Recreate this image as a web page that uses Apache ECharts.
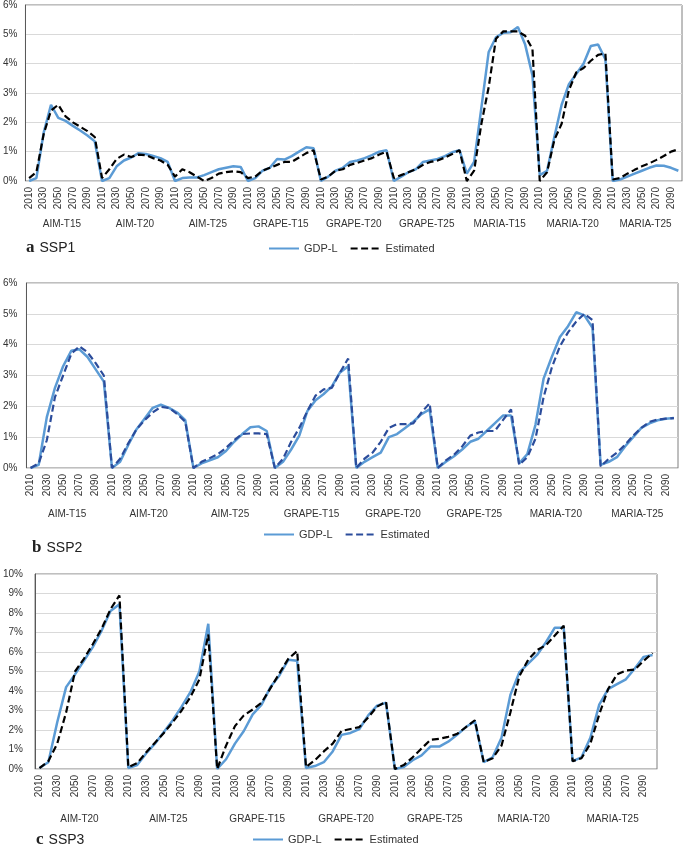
<!DOCTYPE html>
<html>
<head>
<meta charset="utf-8">
<script src="https://cdn.jsdelivr.net/npm/echarts@6/dist/echarts.min.js"></script>
<style>
html,body{margin:0;padding:0;background:#fff;}
#c{width:685px;height:853px;}
</style>
</head>
<body>
<div id="c"></div>
<script>
// ---------- data ----------
const years = [2010, 2020, 2030, 2040, 2050, 2060, 2070, 2080, 2090, 2100];

const ssp1Groups = ['AIM-T15','AIM-T20','AIM-T25','GRAPE-T15','GRAPE-T20','GRAPE-T25','MARIA-T15','MARIA-T20','MARIA-T25'];
const ssp2Groups = ['AIM-T15','AIM-T20','AIM-T25','GRAPE-T15','GRAPE-T20','GRAPE-T25','MARIA-T20','MARIA-T25'];
const ssp3Groups = ['AIM-T20','AIM-T25','GRAPE-T15','GRAPE-T20','GRAPE-T25','MARIA-T20','MARIA-T25'];

// SSP1 (values in %)
const ssp1GdpL = [
  0, 0.1, 1.65, 2.6, 2.15, 2.05, 1.88, 1.72, 1.55, 1.35,      // AIM-T15
  0, 0.1, 0.5, 0.7, 0.8, 0.95, 0.92, 0.85, 0.78, 0.65,        // AIM-T20
  0, 0.1, 0.12, 0.12, 0.2, 0.3, 0.4, 0.45, 0.5, 0.48,         // AIM-T25
  0, 0.1, 0.35, 0.45, 0.75, 0.73, 0.85, 1.0, 1.15, 1.12,      // GRAPE-T15
  0, 0.15, 0.35, 0.45, 0.65, 0.7, 0.78, 0.88, 1.0, 1.05,      // GRAPE-T20
  0, 0.15, 0.3, 0.4, 0.65, 0.7, 0.75, 0.85, 0.98, 1.05,       // GRAPE-T25
  0.25, 0.65, 2.5, 4.4, 4.9, 5.05, 5.07, 5.25, 4.65, 3.6,     // MARIA-T15
  0.2, 0.35, 1.5, 2.6, 3.3, 3.65, 4.0, 4.6, 4.65, 4.15,       // MARIA-T20
  0, 0.05, 0.15, 0.25, 0.35, 0.45, 0.53, 0.52, 0.45, 0.35     // MARIA-T25
];
const ssp1Est = [
  0.1, 0.3, 1.6, 2.4, 2.6, 2.2, 2.0, 1.85, 1.7, 1.5,
  0.1, 0.4, 0.75, 0.9, 0.82, 0.9, 0.88, 0.78, 0.7, 0.55,
  0.15, 0.4, 0.3, 0.15, 0.0, 0.1, 0.25, 0.3, 0.33, 0.3,
  0.1, 0.15, 0.35, 0.45, 0.55, 0.65, 0.65, 0.8, 0.95, 1.05,
  0.05, 0.15, 0.35, 0.4, 0.55, 0.62, 0.7, 0.78, 0.9, 1.0,
  0.1, 0.2, 0.3, 0.4, 0.55, 0.65, 0.7, 0.8, 0.92, 1.05,
  0.0, 0.35, 1.95, 3.2, 4.85, 5.1, 5.1, 5.1, 4.95, 4.5,
  0.0, 0.3, 1.4, 1.95, 3.1, 3.7, 3.85, 4.1, 4.3, 4.35,
  0.05, 0.1, 0.25, 0.38, 0.5, 0.6, 0.72, 0.85, 1.0, 1.08
];

// SSP2
const ssp2GdpL = [
  0, 0.1, 1.65, 2.6, 3.3, 3.8, 3.85, 3.6, 3.2, 2.8,           // AIM-T15
  0, 0.2, 0.75, 1.25, 1.6, 1.95, 2.05, 1.95, 1.8, 1.55,       // AIM-T20
  0, 0.15, 0.25, 0.35, 0.55, 0.85, 1.1, 1.32, 1.35, 1.2,      // AIM-T25
  0, 0.2, 0.6, 1.05, 1.85, 2.2, 2.4, 2.65, 3.1, 3.3,          // GRAPE-T15
  0, 0.2, 0.35, 0.5, 1.0, 1.1, 1.3, 1.5, 1.75, 1.9,           // GRAPE-T20
  0, 0.2, 0.38, 0.6, 0.85, 0.95, 1.2, 1.45, 1.7, 1.7,         // GRAPE-T25
  0.15, 0.45, 1.4, 2.9, 3.6, 4.25, 4.6, 5.05, 4.95, 4.55,     // MARIA-T20
  0.1, 0.2, 0.35, 0.7, 1.0, 1.3, 1.45, 1.55, 1.6, 1.62        // MARIA-T25
];
const ssp2Est = [
  0, 0.15, 0.9, 2.3, 3.0, 3.7, 3.95, 3.75, 3.4, 3.0,
  0, 0.3, 0.8, 1.25, 1.55, 1.8, 1.98, 1.95, 1.75, 1.5,
  0, 0.2, 0.32, 0.45, 0.65, 0.9, 1.1, 1.12, 1.12, 1.1,
  0, 0.3, 0.85, 1.3, 1.85, 2.35, 2.55, 2.6, 3.1, 3.55,
  0, 0.3, 0.5, 0.85, 1.3, 1.42, 1.42, 1.45, 1.8, 2.1,
  0, 0.25, 0.43, 0.7, 1.05, 1.15, 1.2, 1.2, 1.55, 1.9,
  0.1, 0.35, 0.95, 2.3, 3.25, 3.95, 4.4, 4.75, 5.0, 4.8,
  0.05, 0.3, 0.5, 0.75, 1.05, 1.3, 1.5, 1.57, 1.6, 1.62
];

// SSP3
const ssp3GdpL = [
  0.05, 0.35, 2.4, 4.2, 4.85, 5.55, 6.25, 7.1, 8.1, 8.45,     // AIM-T20
  0.05, 0.2, 0.8, 1.3, 1.9, 2.5, 3.2, 3.95, 5.0, 7.45,        // AIM-T25
  0, 0.5, 1.3, 1.95, 2.8, 3.3, 4.2, 4.8, 5.6, 5.55,           // GRAPE-T15
  0.05, 0.15, 0.35, 0.9, 1.75, 1.85, 2.05, 2.75, 3.25, 3.4,   // GRAPE-T20
  0, 0.1, 0.45, 0.7, 1.15, 1.15, 1.4, 1.75, 2.15, 2.45,       // GRAPE-T25
  0.35, 0.6, 1.6, 3.8, 4.95, 5.4, 5.85, 6.5, 7.25, 7.25,      // MARIA-T20
  0.4, 0.6, 1.6, 3.3, 4.1, 4.35, 4.6, 5.15, 5.75, 5.85        // MARIA-T25
];
const ssp3Est = [
  0.05, 0.4, 1.3, 2.9, 5.0, 5.65, 6.4, 7.2, 8.2, 8.9,
  0.1, 0.3, 0.85, 1.35, 1.85, 2.4, 3.0, 3.7, 4.6, 6.9,
  0, 1.2, 2.2, 2.75, 3.05, 3.4, 4.15, 4.9, 5.65, 6.05,
  0.1, 0.45, 0.9, 1.3, 1.95, 2.05, 2.15, 2.65, 3.2, 3.45,
  0, 0.2, 0.6, 1.05, 1.5, 1.55, 1.65, 1.8, 2.15, 2.5,
  0.35, 0.55, 1.2, 2.9, 4.75, 5.6, 6.1, 6.35, 6.85, 7.35,
  0.4, 0.55, 1.3, 2.8, 4.1, 4.85, 5.05, 5.1, 5.55, 5.95
];

// ---------- chart ----------
const FONT = 'Liberation Sans, Arial, sans-serif';
const TXT = '#333';
const BLUE = '#5B9BD5';

function yearCats(groups) {
  const out = [];
  groups.forEach(() => years.forEach(y => out.push(String(y))));
  return out;
}

const panels = [
  { key: 'SSP1', letter: 'a', groups: ssp1Groups, gdp: ssp1GdpL, est: ssp1Est, estColor: '#000',
    grid: { left: 22, top: 4, width: 660, height: 177 }, ymax: 6, ymargin: 8, grpOffset: 33,
    title: { left: 26, top: 239 }, legend: { left: 268, top: 243 } },
  { key: 'SSP2', letter: 'b', groups: ssp2Groups, gdp: ssp2GdpL, est: ssp2Est, estColor: '#2B4C9B',
    grid: { left: 25, top: 283, width: 653, height: 185 }, ymax: 6, ymargin: 9, grpOffset: 36,
    title: { left: 32, top: 539 }, legend: { left: 263, top: 529 } },
  { key: 'SSP3', letter: 'c', groups: ssp3Groups, gdp: ssp3GdpL, est: ssp3Est, estColor: '#000',
    grid: { left: 33, top: 574, width: 624, height: 195 }, ymax: 10, ymargin: 12, grpOffset: 40,
    title: { left: 36, top: 831 }, legend: { left: 252, top: 834 } }
];

const option = {
  animation: false,
  backgroundColor: '#fff',
  title: [], legend: [], grid: [], xAxis: [], yAxis: [], series: []
};

panels.forEach((p, k) => {
  option.grid.push(Object.assign({ show: true, borderColor: '#7f7f7f', borderWidth: 1 }, p.grid));
  option.xAxis.push({
    type: 'category', gridIndex: k, data: yearCats(p.groups), boundaryGap: true,
    axisLine: { lineStyle: { color: '#d9d9d9', width: 1 } },
    axisTick: { show: false },
    axisLabel: { interval: 1, rotate: 90, fontSize: 10, margin: 6, color: TXT, fontFamily: FONT }
  });
  option.xAxis.push({
    type: 'category', gridIndex: k, data: p.groups, boundaryGap: true, position: 'bottom',
    offset: p.grpOffset,
    axisLine: { show: false }, axisTick: { show: false },
    axisLabel: { interval: 0, fontSize: 10, margin: 5, color: TXT, fontFamily: FONT }
  });
  option.yAxis.push({
    type: 'value', gridIndex: k, min: 0, max: p.ymax, interval: 1,
    axisLine: { show: true, lineStyle: { color: '#595959', width: 1 } },
    axisTick: { show: false },
    splitLine: { lineStyle: { color: '#d9d9d9', width: 1 } },
    axisLabel: { formatter: '{value}%', fontSize: 10, margin: p.ymargin, color: TXT, fontFamily: FONT }
  });
  option.series.push({
    name: p.key + ' GDP-L', type: 'line', xAxisIndex: 2 * k, yAxisIndex: k,
    data: p.gdp, symbol: 'none', showSymbol: false, z: 2,
    lineStyle: { color: BLUE, width: 2.5 }, itemStyle: { color: BLUE }
  });
  option.series.push({
    name: p.key + ' Estimated', type: 'line', xAxisIndex: 2 * k, yAxisIndex: k,
    data: p.est, symbol: 'none', showSymbol: false, z: 3,
    lineStyle: { color: p.estColor, width: 2.2, type: [7, 3.5] }, itemStyle: { color: p.estColor }
  });
  option.legend.push({
    data: [p.key + ' GDP-L', p.key + ' Estimated'],
    left: p.legend.left, top: p.legend.top, orient: 'horizontal', padding: 0,
    itemWidth: 30, itemHeight: 12, itemGap: 12,
    itemStyle: { opacity: 0, borderWidth: 0 },
    formatter: n => n.slice(5),
    textStyle: { fontSize: 11, color: TXT, fontFamily: FONT }
  });
  option.title.push({
    text: '{l|' + p.letter + '} {s|' + p.key + '}',
    left: p.title.left, top: p.title.top, padding: 0,
    textStyle: {
      fontWeight: 'normal',
      rich: {
        l: { fontFamily: 'Liberation Serif, Times New Roman, serif', fontWeight: 'bold', fontSize: 17, color: '#222' },
        s: { fontFamily: FONT, fontWeight: 'normal', fontSize: 14, color: '#222' }
      }
    }
  });
});

const chart = echarts.init(document.getElementById('c'), null, { renderer: 'canvas' });
chart.setOption(option);
</script>
</body>
</html>
